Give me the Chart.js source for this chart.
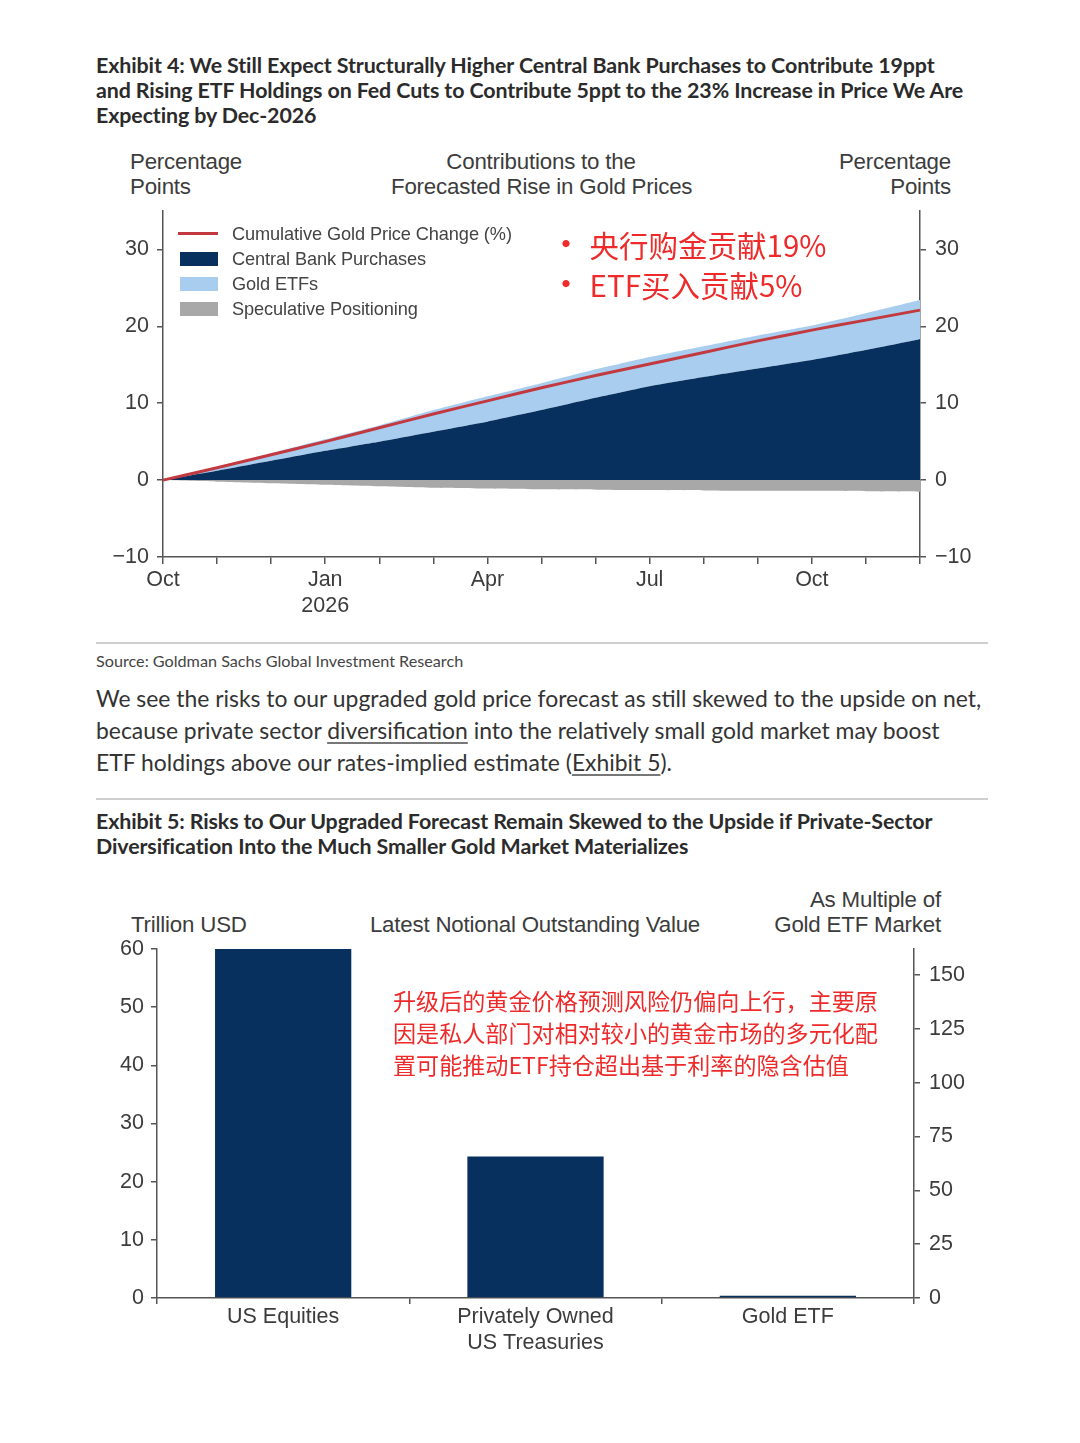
<!DOCTYPE html>
<html>
<head>
<meta charset="utf-8">
<script src="https://cdn.jsdelivr.net/npm/chart.js@4.4.1/dist/chart.umd.min.js"></script>
<style>
  body { margin: 0; background: #fff; }
  #page { position: relative; width: 1080px; height: 1443px; overflow: hidden; font-family: "Liberation Sans", Arial, sans-serif; }
  .abs { position: absolute; white-space: nowrap; }
  .title { font-family: Lato, sans-serif; font-weight: 700; font-size: 21.4px; line-height: 25px; color: #2b2b2b; letter-spacing: -0.1px; }
  .lbl { font-size: 22.3px; line-height: 25px; color: #3c3c3c; letter-spacing: -0.2px; }
  .rule { position: absolute; left: 96px; width: 892px; height: 2px; background: #cfcfcf; }
  .para { font-family: Lato, sans-serif; font-size: 22.9px; line-height: 32px; color: #333; }
  .para u { text-decoration-color: #777; text-underline-offset: 3px; }
  .leg { font-size: 18.2px; color: #444; letter-spacing: -0.1px; }
  .swatch { position: absolute; width: 38px; height: 14px; }
  .red { color: #ee2a2a; font-family: "Noto Sans CJK SC", sans-serif; }
  canvas { position: absolute; }
</style>
</head>
<body>
<div id="page">
  <div class="abs title" style="left:96px; top:53px;">Exhibit 4: We Still Expect Structurally Higher Central Bank Purchases to Contribute 19ppt<br>and Rising ETF Holdings on Fed Cuts to Contribute 5ppt to the 23% Increase in Price We Are<br>Expecting by Dec-2026</div>

  <div class="abs lbl" style="left:130px; top:149px;">Percentage<br>Points</div>
  <div class="abs lbl" style="left:391px; width:300px; top:149px; text-align:center;">Contributions to the<br>Forecasted Rise in Gold Prices</div>
  <div class="abs lbl" style="right:129px; top:149px; text-align:right;">Percentage<br>Points</div>

  <canvas id="chart1" width="900" height="436" style="left:95px; top:189px;"></canvas>

  <div class="abs" style="left:178px; top:232px; width:40px; height:3px; background:#c23a40;"></div>
  <div class="abs leg" style="left:232px; top:224px;">Cumulative Gold Price Change (%)</div>
  <div class="swatch" style="left:180px; top:252px; background:#07305e;"></div>
  <div class="abs leg" style="left:232px; top:249px;">Central Bank Purchases</div>
  <div class="swatch" style="left:180px; top:277px; background:#a9cdee;"></div>
  <div class="abs leg" style="left:232px; top:274px;">Gold ETFs</div>
  <div class="swatch" style="left:180px; top:302px; background:#a8a8a8;"></div>
  <div class="abs leg" style="left:232px; top:299px;">Speculative Positioning</div>

  <div class="abs red" style="left:549px; top:224px; font-size:29.5px; line-height:40px;"><span style="font-size:34px; line-height:30px;">•</span>&nbsp;央行购金贡献19%<br><span style="font-size:34px; line-height:30px;">•</span>&nbsp;ETF买入贡献5%</div>

  <div class="rule" style="top:642px;"></div>
  <div class="abs" style="left:96px; top:651px; font-family:Lato, sans-serif; font-size:16.2px; color:#444;">Source: Goldman Sachs Global Investment Research</div>
  <div class="abs para" style="left:96px; top:682px;">We see the risks to our upgraded gold price forecast as still skewed to the upside on net,<br>because private sector <u>diversification</u> into the relatively small gold market may boost<br>ETF holdings above our rates-implied estimate (<u>Exhibit 5</u>).</div>
  <div class="rule" style="top:798px;"></div>

  <div class="abs title" style="left:96px; top:809px;">Exhibit 5: Risks to Our Upgraded Forecast Remain Skewed to the Upside if Private-Sector<br>Diversification Into the Much Smaller Gold Market Materializes</div>

  <div class="abs lbl" style="left:131px; top:912px;">Trillion USD</div>
  <div class="abs lbl" style="left:335px; width:400px; top:912px; text-align:center;">Latest Notional Outstanding Value</div>
  <div class="abs lbl" style="right:139px; top:887px; text-align:right;">As Multiple of<br>Gold ETF Market</div>

  <canvas id="chart2" width="895" height="433" style="left:95px; top:927px;"></canvas>

  <div class="abs red" style="left:393px; top:984px; font-size:23.1px; line-height:32px;">升级后的黄金价格预测风险仍偏向上行，主要原<br>因是私人部门对相对较小的黄金市场的多元化配<br>置可能推动ETF持仓超出基于利率的隐含估值</div>
</div>

<script>
// Exhibit 4 - monthly, Oct 2025 .. Dec 2026
const months = ['Oct', '', '', ['Jan', '2026'], '', '', 'Apr', '', '', 'Jul', '', '', 'Oct', '', ''];
const cumulativeChange = [0, 1.6, 3.3, 5.0, 6.8, 8.6, 10.3, 12.0, 13.6, 15.1, 16.6, 18.1, 19.5, 20.8, 22.1];
const centralBank = [0, 1.2, 2.5, 3.8, 5.0, 6.3, 7.6, 9.1, 10.7, 12.2, 13.4, 14.5, 15.6, 16.9, 18.3];
const goldEtfs = [0, 0.5, 1.0, 1.5, 2.1, 2.8, 3.3, 3.5, 3.7, 3.8, 4.0, 4.3, 4.5, 4.8, 5.1];
const speculative = [0, -0.2, -0.4, -0.6, -0.8, -1.0, -1.1, -1.2, -1.25, -1.3, -1.35, -1.4, -1.4, -1.45, -1.5];
const ppTicks = [-10, 0, 10, 20, 30];

// Exhibit 5
const assets = ['US Equities', ['Privately Owned', 'US Treasuries'], 'Gold ETF'];
const notionalValue = [60, 24.3, 0.37];
const trillionTicks = [0, 10, 20, 30, 40, 50, 60];
const multipleTicks = [0, 25, 50, 75, 100, 125, 150];

const axisColor = '#555';
const tickFont = { family: 'Liberation Sans', size: 21.5 };

function fixedTicks(list) {
    return function (scale) {
        scale.ticks = list.map(v => ({ value: v }));
    };
}

function fixedWidth(w) {
    return function (scale) { scale.width = w; };
}

function fixedHeight(h) {
    return function (scale) { scale.height = h; };
}

function minusSign(v) {
    return String(v).replace('-', '\u2212');
}

const etfTop = centralBank.map((v, i) => v + goldEtfs[i]);

new Chart(document.getElementById('chart1'), {
    type: 'line',
    data: {
        labels: months,
        datasets: [
            { label: 'Cumulative Gold Price Change (%)', data: cumulativeChange, borderColor: '#c23a40', borderWidth: 3, pointRadius: 0, fill: false, tension: 0.1 },
            { label: 'Central Bank Purchases', data: centralBank, borderColor: '#07305e', borderWidth: 0, backgroundColor: '#07305e', pointRadius: 0, fill: 'origin', tension: 0.1 },
            { label: 'Gold ETFs', data: etfTop, borderColor: '#a9cdee', borderWidth: 0, backgroundColor: '#a9cdee', pointRadius: 0, fill: 1, tension: 0.1 },
            { label: 'Speculative Positioning', data: speculative, borderColor: '#a8a8a8', borderWidth: 0, backgroundColor: '#a8a8a8', pointRadius: 0, fill: 'origin', tension: 0.1 }
        ]
    },
    options: {
        responsive: false,
        animation: false,
        layout: { padding: { top: 10 } },
        plugins: { legend: { display: false }, tooltip: { enabled: false } },
        scales: {
            x: {
                offset: false,
                afterFit: fixedHeight(68),
                grid: { drawOnChartArea: false, drawTicks: true, tickLength: 7, color: axisColor, lineWidth: 1.5 },
                border: { display: true, color: axisColor, width: 1.5 },
                ticks: { autoSkip: false, maxRotation: 0, padding: 3, color: '#3c3c3c', font: { ...tickFont, lineHeight: 1.2 } }
            },
            y: {
                position: 'left',
                min: -10, max: 35,
                afterBuildTicks: fixedTicks(ppTicks),
                afterFit: fixedWidth(68),
                grid: { drawOnChartArea: false, drawTicks: true, tickLength: 6, color: axisColor, lineWidth: 1.5 },
                border: { display: true, color: axisColor, width: 1.5 },
                ticks: { padding: 8, color: '#3c3c3c', font: tickFont, callback: minusSign }
            },
            y2: {
                position: 'right',
                min: -10, max: 35,
                afterBuildTicks: fixedTicks(ppTicks),
                afterFit: fixedWidth(75),
                grid: { drawOnChartArea: false, drawTicks: true, tickLength: 6, color: axisColor, lineWidth: 1.5 },
                border: { display: true, color: axisColor, width: 1.5 },
                ticks: { padding: 9, color: '#3c3c3c', font: tickFont, callback: minusSign }
            }
        }
    }
});

new Chart(document.getElementById('chart2'), {
    type: 'bar',
    data: {
        labels: assets,
        datasets: [
            { label: 'Trillion USD', data: notionalValue, backgroundColor: '#07305e', borderWidth: 0, barPercentage: 0.54, categoryPercentage: 1 }
        ]
    },
    options: {
        responsive: false,
        animation: false,
        layout: { padding: { top: 18 } },
        plugins: { legend: { display: false }, tooltip: { enabled: false } },
        scales: {
            x: {
                afterFit: fixedHeight(62),
                grid: { offset: true, drawOnChartArea: false, drawTicks: true, tickLength: 6, color: axisColor, lineWidth: 1.5 },
                border: { display: true, color: axisColor, width: 1.5 },
                ticks: { autoSkip: false, maxRotation: 0, padding: 0, color: '#3c3c3c', font: { ...tickFont, lineHeight: 1.2 } }
            },
            y: {
                position: 'left',
                min: 0, max: 60,
                afterBuildTicks: fixedTicks(trillionTicks),
                afterFit: fixedWidth(62),
                grid: { drawOnChartArea: false, drawTicks: true, tickLength: 6, color: axisColor, lineWidth: 1.5 },
                border: { display: true, color: axisColor, width: 1.5 },
                ticks: { padding: 7, color: '#3c3c3c', font: tickFont }
            },
            y2: {
                position: 'right',
                min: 0, max: 60 / notionalValue[2],
                afterBuildTicks: fixedTicks(multipleTicks),
                afterFit: fixedWidth(76),
                grid: { drawOnChartArea: false, drawTicks: true, tickLength: 6, color: axisColor, lineWidth: 1.5 },
                border: { display: true, color: axisColor, width: 1.5 },
                ticks: { padding: 9, color: '#3c3c3c', font: tickFont }
            }
        }
    }
});
</script>
</body>
</html>
